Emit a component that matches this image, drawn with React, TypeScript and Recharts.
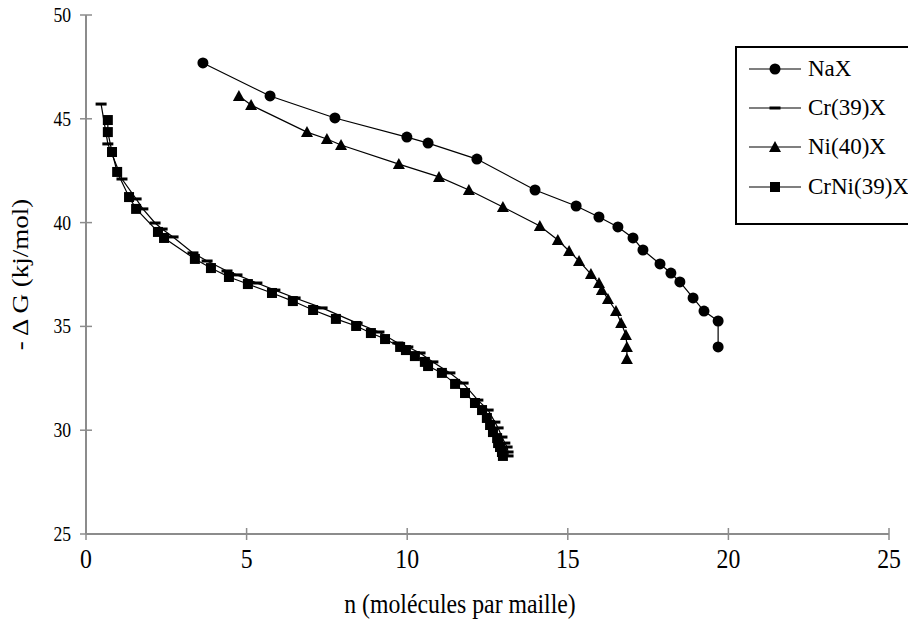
import React from "react";
import { LineChart, Line, XAxis, YAxis, Label } from "recharts";

// n (molécules par maille) / -ΔG (kj/mol)
const naxN = [3.64, 5.73, 7.75, 9.99, 10.65, 12.17, 13.98, 15.26, 15.97, 16.56, 17.03, 17.34, 17.87, 18.21, 18.49, 18.9, 19.24, 19.68, 19.68];
const naxG = [47.69, 46.1, 45.04, 44.12, 43.83, 43.06, 41.57, 40.8, 40.27, 39.79, 39.26, 38.68, 38.01, 37.57, 37.14, 36.37, 35.74, 35.26, 34.01];

const crN = [0.47, 0.68, 1.12, 1.56, 1.77, 2.15, 2.37, 2.71, 3.33, 3.77, 4.39, 4.7, 5.32, 5.88, 6.51, 7.35, 8.44, 9.12, 9.71, 10.02, 10.4, 10.8, 11.33, 11.74, 12.2, 12.52, 12.73, 12.83, 12.95, 13.04, 13.11, 13.14, 13.14];
const crG = [45.71, 43.79, 42.1, 41.14, 40.66, 39.98, 39.69, 39.31, 38.54, 38.15, 37.67, 37.48, 37.09, 36.75, 36.37, 35.89, 35.16, 34.73, 34.2, 34.01, 33.72, 33.29, 32.76, 32.27, 31.45, 30.97, 30.39, 30.11, 29.67, 29.38, 29.19, 28.95, 28.76];

const niN = [4.76, 5.14, 6.88, 7.5, 7.94, 9.74, 10.99, 11.92, 12.98, 14.13, 14.69, 15.04, 15.35, 15.72, 15.97, 16.06, 16.25, 16.5, 16.66, 16.81, 16.84, 16.84];
const niG = [46.1, 45.66, 44.36, 44.03, 43.74, 42.82, 42.2, 41.57, 40.75, 39.84, 39.16, 38.63, 38.15, 37.52, 37.09, 36.75, 36.32, 35.74, 35.16, 34.59, 34.01, 33.43];

const crniN = [0.68, 0.68, 0.81, 0.97, 1.34, 1.56, 2.24, 2.43, 3.39, 3.89, 4.45, 5.04, 5.79, 6.44, 7.07, 7.78, 8.41, 8.87, 9.31, 9.78, 9.96, 10.24, 10.55, 10.65, 11.08, 11.49, 11.8, 12.11, 12.33, 12.48, 12.58, 12.67, 12.8, 12.83, 12.89, 12.95, 12.98];
const crniG = [44.94, 44.36, 43.4, 42.44, 41.23, 40.66, 39.55, 39.26, 38.25, 37.81, 37.38, 37.04, 36.61, 36.22, 35.79, 35.36, 35.02, 34.68, 34.39, 34.01, 33.86, 33.57, 33.29, 33.09, 32.76, 32.23, 31.79, 31.31, 30.97, 30.59, 30.25, 29.91, 29.62, 29.38, 29.19, 28.95, 28.76];

const seriesNames = ["NaX", "Cr(39)X", "Ni(40)X", "CrNi(39)X"];
const xTicks = [0, 5, 10, 15, 20, 25];
const yTicks = [25, 30, 35, 40, 45, 50];

const toRows = (xs: number[], ys: number[]) => xs.map((x, i) => ({ x, y: ys[i] }));

const FONT = '"Liberation Serif", "Times New Roman", serif';
const AXIS = "#8c8c8c";
const SQ = 0.88; // the reference text is a bit narrow

type Shape = "circle" | "dash" | "triangle" | "square";

function marker(shape: Shape, cx: number, cy: number, key?: string | number) {
  if (shape === "circle") return <circle key={key} cx={cx} cy={cy} r={5.5} fill="#000" />;
  if (shape === "dash") return <rect key={key} x={cx - 5.5} y={cy - 1.5} width={11} height={3} fill="#000" />;
  if (shape === "triangle")
    return <polygon key={key} points={`${cx},${cy - 6} ${cx + 6},${cy + 5} ${cx - 6},${cy + 5}`} fill="#000" />;
  return <rect key={key} x={cx - 5} y={cy - 5} width={10} height={10} fill="#000" />;
}

const dotFor = (shape: Shape) => (p: any) => {
  if (p.cx == null || p.cy == null) return <g key={p.key ?? p.index} />;
  return marker(shape, p.cx, p.cy, p.key ?? p.index);
};

const XTick = (props: any) => {
  const { x, y, payload } = props;
  return (
    <g>
      <line x1={x} x2={x} y1={y - 6} y2={y + 6} stroke={AXIS} strokeWidth={1.5} />
      <text
        transform={`translate(${x},${y + 34}) scale(${SQ},1)`}
        textAnchor="middle"
        fontSize={27}
        fontFamily={FONT}
        fill="#000"
      >
        {payload.value}
      </text>
    </g>
  );
};

const YTick = (props: any) => {
  const { x, y, payload } = props;
  return (
    <g>
      <line x1={x - 6} x2={x + 6} y1={y} y2={y} stroke={AXIS} strokeWidth={1.5} />
      <text
        transform={`translate(${x - 15},${y + 7}) scale(${SQ},1)`}
        textAnchor="end"
        fontSize={20}
        fontFamily={FONT}
        fill="#000"
      >
        {payload.value}
      </text>
    </g>
  );
};

const shapes: Shape[] = ["circle", "dash", "triangle", "square"];

const LegendBox = () => (
  <div
    style={{
      position: "absolute",
      left: 735,
      top: 46,
      border: "2px solid #000",
      background: "#fff",
      width: 200,
      height: 179,
      boxSizing: "border-box",
      padding: "1px 0 0 11px",
      fontFamily: FONT,
    }}
  >
    {seriesNames.map((name, i) => (
      <div key={name} style={{ display: "flex", alignItems: "center", height: 39.3 }}>
        <svg width={54} height={14}>
          <line x1={1} x2={53} y1={7} y2={7} stroke="#000" strokeWidth={1.2} />
          {marker(shapes[i], 27, 7)}
        </svg>
        <span style={{ fontSize: 23, marginLeft: 6, whiteSpace: "nowrap" }}>{name}</span>
      </div>
    ))}
  </div>
);

export default function App() {
  const rows = [toRows(naxN, naxG), toRows(crN, crG), toRows(niN, niG), toRows(crniN, crniG)];
  return (
    <div style={{ position: "absolute", left: 0, top: 0, width: 908, height: 628, overflow: "hidden", background: "#fff" }}>
      <LineChart width={908} height={628} margin={{ top: 15, right: 19, left: 0, bottom: 0 }}>
        <XAxis
          type="number"
          dataKey="x"
          domain={[0, 25]}
          ticks={xTicks}
          allowDataOverflow
          height={94}
          stroke={AXIS}
          strokeWidth={2}
          tickLine={false}
          tickSize={0}
          tickMargin={0}
          tick={<XTick />}
          interval={0}
        >
          <Label
            content={(p: any) => {
              const vb = p.viewBox;
              return (
                <text
                  transform={`translate(${vb.x + 374},${vb.y + 79}) scale(${SQ},1)`}
                  textAnchor="middle"
                  fontSize={27}
                  fontFamily={FONT}
                  fill="#000"
                >
                  n (molécules par maille)
                </text>
              );
            }}
          />
        </XAxis>
        <YAxis
          type="number"
          domain={[25, 50]}
          ticks={yTicks}
          allowDataOverflow
          width={86}
          stroke={AXIS}
          strokeWidth={2}
          tickLine={false}
          tickSize={0}
          tickMargin={0}
          tick={<YTick />}
          interval={0}
        >
          <Label
            content={(p: any) => {
              const vb = p.viewBox;
              const cy = vb.y + vb.height / 2;
              return (
                <text
                  transform={`translate(28,${cy}) rotate(-90) scale(1,${SQ})`}
                  textAnchor="middle"
                  fontSize={27}
                  fontFamily={FONT}
                  fill="#000"
                >
                  - Δ G (kj/mol)
                </text>
              );
            }}
          />
        </YAxis>
        {rows.map((data, i) => (
          <Line
            key={seriesNames[i]}
            data={data}
            dataKey="y"
            name={seriesNames[i]}
            stroke="#000"
            strokeWidth={1.2}
            dot={dotFor(shapes[i])}
            activeDot={false}
            isAnimationActive={false}
            type="linear"
          />
        ))}
      </LineChart>
      <LegendBox />
    </div>
  );
}
